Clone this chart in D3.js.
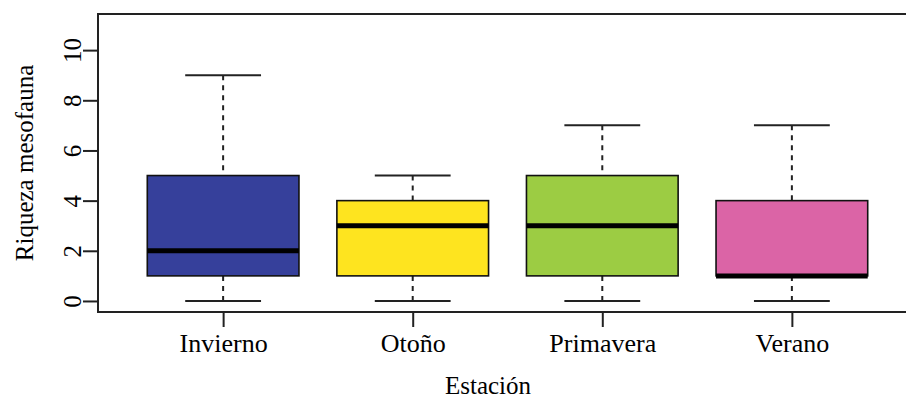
<!DOCTYPE html>
<html>
<head>
<meta charset="utf-8">
<script src="https://cdn.jsdelivr.net/npm/d3@7"></script>
<style>
  body { margin: 0; background: #fff; }
  text { font-family: "Liberation Serif", "Times New Roman", serif; fill: #000; }
</style>
</head>
<body>
<svg width="906" height="402"></svg>
<script>
// datos del boxplot
var estaciones = ["Invierno", "Otoño", "Primavera", "Verano"];
var minimos  = [0, 0, 0, 0];
var q1       = [1, 1, 1, 1];
var medianas = [2, 3, 3, 1];
var q3       = [5, 4, 5, 4];
var maximos  = [9, 5, 7, 7];
var colores  = ["#36409b", "#fee41f", "#9ccc43", "#db64a6"];
var yTicks   = [0, 2, 4, 6, 8, 10];

var data = estaciones.map(function(d, i) {
  return {name: d, pos: i + 1, min: minimos[i], q1: q1[i], med: medianas[i], q3: q3[i], max: maximos[i], col: colores[i]};
});

// ojo: "top" choca con window.top
var mLeft = 98, mRight = 917, mTop = 14, mBottom = 312;

var svg = d3.select("svg");

// escalas como en R: xlim 0.5..4.5, ylim 0..11 con 4% extra
var x = d3.scaleLinear().domain([0.34, 4.66]).range([mLeft, mRight]);
var y = d3.scaleLinear().domain([-0.44, 11.44]).range([mBottom, mTop]);

var unit = x(2) - x(1);
var boxW = 0.8 * unit;
var capW = boxW / 2;

// bigotes punteados
svg.selectAll(".whisker").data(data).enter().append("line")
  .attr("x1", function(d){ return x(d.pos); })
  .attr("x2", function(d){ return x(d.pos); })
  .attr("y1", function(d){ return y(d.max); })
  .attr("y2", function(d){ return y(d.q3); })
  .attr("stroke", "#222").attr("stroke-width", 2).attr("stroke-dasharray", "5,5");
svg.selectAll(".whisker2").data(data).enter().append("line")
  .attr("x1", function(d){ return x(d.pos); })
  .attr("x2", function(d){ return x(d.pos); })
  .attr("y1", function(d){ return y(d.min); })
  .attr("y2", function(d){ return y(d.q1); })
  .attr("stroke", "#222").attr("stroke-width", 2).attr("stroke-dasharray", "5,5");

// tapas
svg.selectAll(".capTop").data(data).enter().append("line")
  .attr("x1", function(d){ return x(d.pos) - capW/2; })
  .attr("x2", function(d){ return x(d.pos) + capW/2; })
  .attr("y1", function(d){ return y(d.max); })
  .attr("y2", function(d){ return y(d.max); })
  .attr("stroke", "#222").attr("stroke-width", 2);
svg.selectAll(".capBot").data(data).enter().append("line")
  .attr("x1", function(d){ return x(d.pos) - capW/2; })
  .attr("x2", function(d){ return x(d.pos) + capW/2; })
  .attr("y1", function(d){ return y(d.min); })
  .attr("y2", function(d){ return y(d.min); })
  .attr("stroke", "#222").attr("stroke-width", 2);

// cajas
svg.selectAll(".caja").data(data).enter().append("rect")
  .attr("x", function(d){ return x(d.pos) - boxW/2; })
  .attr("y", function(d){ return y(d.q3); })
  .attr("width", boxW)
  .attr("height", function(d){ return y(d.q1) - y(d.q3); })
  .attr("fill", function(d){ return d.col; })
  .attr("stroke", "#111").attr("stroke-width", 1.6);

// medianas
svg.selectAll(".mediana").data(data).enter().append("line")
  .attr("x1", function(d){ return x(d.pos) - boxW/2; })
  .attr("x2", function(d){ return x(d.pos) + boxW/2; })
  .attr("y1", function(d){ return y(d.med); })
  .attr("y2", function(d){ return y(d.med); })
  .attr("stroke", "#000").attr("stroke-width", 5);

// marco
svg.append("rect")
  .attr("x", mLeft).attr("y", mTop)
  .attr("width", mRight - mLeft).attr("height", mBottom - mTop)
  .attr("fill", "none").attr("stroke", "#222").attr("stroke-width", 2);

// eje Y
var yAxis = svg.append("g")
  .attr("transform", "translate(" + mLeft + ",0)")
  .call(d3.axisLeft(y).tickValues(yTicks).tickSize(15).tickFormat(d3.format("d")));
yAxis.select(".domain")
  .attr("d", "M0," + y(0) + "V" + y(10))
  .attr("stroke", "#222").attr("stroke-width", 2);
yAxis.selectAll(".tick line").attr("stroke", "#222").attr("stroke-width", 2);
yAxis.selectAll(".tick text")
  .attr("font-size", 25)
  .attr("transform", "rotate(-90)")
  .attr("x", 0).attr("y", -17).attr("dy", 0)
  .attr("text-anchor", "middle");

// eje X
var xAxis = svg.append("g")
  .attr("transform", "translate(0," + mBottom + ")")
  .call(d3.axisBottom(x).tickValues(data.map(function(d){ return d.pos; })).tickSize(15)
    .tickFormat(function(d){ return estaciones[d - 1]; }));
xAxis.select(".domain").remove();
xAxis.selectAll(".tick line").attr("stroke", "#222").attr("stroke-width", 2);
xAxis.selectAll(".tick text")
  .attr("font-size", 26)
  .attr("y", 40).attr("dy", 0);

// titulos
svg.append("text")
  .attr("x", 488)
  .attr("y", 394)
  .attr("text-anchor", "middle")
  .attr("font-size", 25)
  .text("Estación");

svg.append("text")
  .attr("transform", "translate(33," + ((mTop + mBottom) / 2) + ") rotate(-90)")
  .attr("text-anchor", "middle")
  .attr("font-size", 25)
  .text("Riqueza mesofauna");
</script>
</body>
</html>
